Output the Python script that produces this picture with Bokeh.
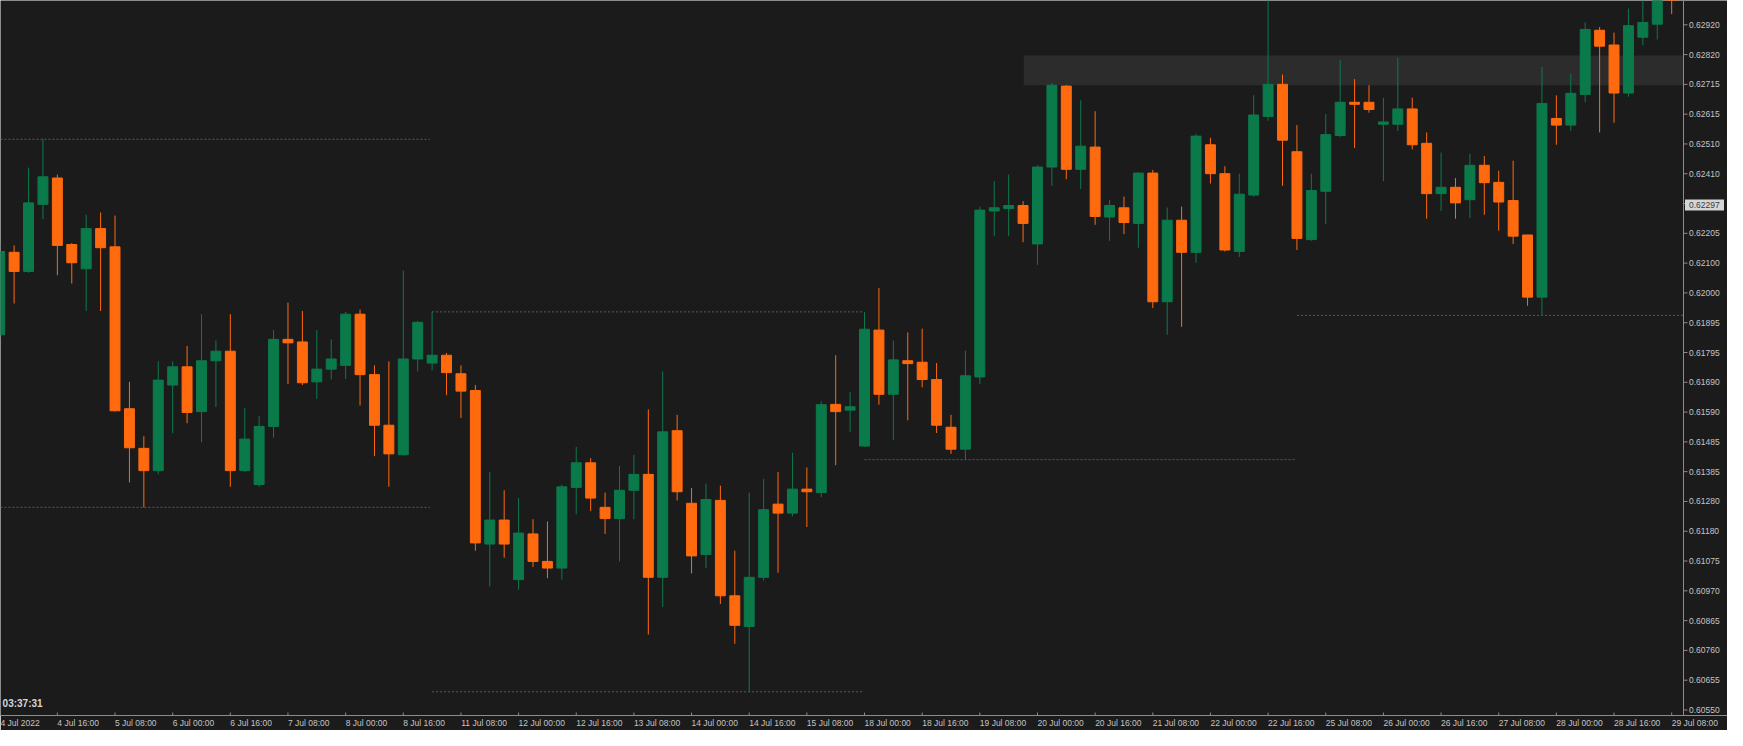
from bokeh.plotting import figure
from bokeh.models import FixedTicker, Label, ColumnDataSource, Range1d
from bokeh.core.properties import value
from bokeh.embed import file_html
from bokeh.resources import INLINE

# ---------------- data (H4 bars, 4 Jul 2022 00:00 .. 29 Jul 2022 08:00) ----------------
opens = [0.61848, 0.62133, 0.62067, 0.62299, 0.62390, 0.62160, 0.62076, 0.62215, 0.62152, 0.61592,
         0.61455, 0.61378, 0.61674, 0.61737, 0.61582, 0.61758, 0.61791, 0.61378, 0.61330, 0.61531,
         0.61832, 0.61823, 0.61685, 0.61729, 0.61742, 0.61919, 0.61710, 0.61535, 0.61433, 0.61764,
         0.61750, 0.61777, 0.61713, 0.61655, 0.61124, 0.61207, 0.61001, 0.61159, 0.61064, 0.61041,
         0.61320, 0.61405, 0.61251, 0.61212, 0.61310, 0.61365, 0.61009, 0.61516, 0.61265, 0.61088,
         0.61275, 0.60945, 0.60839, 0.61009, 0.61262, 0.61231, 0.61314, 0.61302, 0.61607, 0.61587,
         0.61463, 0.61864, 0.61642, 0.61758, 0.61753, 0.61693, 0.61528, 0.61452, 0.61702, 0.62276,
         0.62284, 0.62295, 0.62162, 0.62428, 0.62708, 0.62420, 0.62497, 0.62255, 0.62287, 0.62233,
         0.62407, 0.61962, 0.62244, 0.62133, 0.62505, 0.62405, 0.62136, 0.62331, 0.62603, 0.62714,
         0.62481, 0.62177, 0.62344, 0.62537, 0.62652, 0.62652, 0.62576, 0.62576, 0.62629, 0.62510,
         0.62336, 0.62358, 0.62315, 0.62434, 0.62375, 0.62312, 0.62193, 0.61978, 0.62596, 0.62573,
         0.62679, 0.62901, 0.62850, 0.62684, 0.62877, 0.62922, 0.63040]
highs = [0.62165, 0.62157, 0.62426, 0.62524, 0.62402, 0.62165, 0.62263, 0.62271, 0.62260, 0.61685,
         0.61497, 0.61756, 0.61756, 0.61809, 0.61919, 0.61828, 0.61919, 0.61595, 0.61566, 0.61864,
         0.61959, 0.61930, 0.61864, 0.61832, 0.61927, 0.61935, 0.61742, 0.61756, 0.62070, 0.61896,
         0.61927, 0.61785, 0.61742, 0.61674, 0.61373, 0.61310, 0.61283, 0.61210, 0.61202, 0.61329,
         0.61460, 0.61421, 0.61302, 0.61394, 0.61432, 0.61590, 0.61721, 0.61571, 0.61318, 0.61333,
         0.61326, 0.61101, 0.61302, 0.61349, 0.61373, 0.61440, 0.61389, 0.61618, 0.61777, 0.61650,
         0.61927, 0.62010, 0.61828, 0.61856, 0.61869, 0.61750, 0.61571, 0.61793, 0.62291, 0.62379,
         0.62402, 0.62310, 0.62434, 0.62719, 0.62711, 0.62659, 0.62621, 0.62315, 0.62326, 0.62410,
         0.62418, 0.62288, 0.62291, 0.62542, 0.62529, 0.62431, 0.62405, 0.62676, 0.63030, 0.62748,
         0.62573, 0.62405, 0.62611, 0.62798, 0.62732, 0.62711, 0.62667, 0.62806, 0.62668, 0.62548,
         0.62478, 0.62390, 0.62474, 0.62466, 0.62415, 0.62450, 0.62193, 0.62774, 0.62676, 0.62751,
         0.62928, 0.62912, 0.62893, 0.62976, 0.63010, 0.63045, 0.63050]
lows = [0.61832, 0.61956, 0.62062, 0.62247, 0.62054, 0.62025, 0.61930, 0.61930, 0.61582, 0.61337,
        0.61251, 0.61365, 0.61508, 0.61542, 0.61476, 0.61598, 0.61322, 0.61373, 0.61322, 0.61492,
        0.61677, 0.61674, 0.61626, 0.61693, 0.61695, 0.61603, 0.61428, 0.61322, 0.61430, 0.61721,
        0.61725, 0.61639, 0.61560, 0.61101, 0.60977, 0.61077, 0.60966, 0.61045, 0.61006, 0.61001,
        0.61227, 0.61238, 0.61159, 0.61064, 0.61210, 0.60811, 0.60906, 0.61275, 0.61022, 0.61041,
        0.60917, 0.60779, 0.60613, 0.60998, 0.61025, 0.61220, 0.61183, 0.61286, 0.61397, 0.61512,
        0.61460, 0.61606, 0.61484, 0.61552, 0.61666, 0.61508, 0.61436, 0.61416, 0.61677, 0.62189,
        0.62189, 0.62168, 0.62090, 0.62363, 0.62386, 0.62352, 0.62228, 0.62173, 0.62196, 0.62149,
        0.61940, 0.61848, 0.61875, 0.62097, 0.62371, 0.62136, 0.62117, 0.62326, 0.62588, 0.62363,
        0.62141, 0.62173, 0.62230, 0.62532, 0.62494, 0.62616, 0.62379, 0.62553, 0.62489, 0.62249,
        0.62276, 0.62249, 0.62252, 0.62263, 0.62208, 0.62162, 0.61948, 0.61915, 0.62505, 0.62553,
        0.62652, 0.62548, 0.62581, 0.62671, 0.62849, 0.62869, 0.62957]
closes = [0.62136, 0.62067, 0.62304, 0.62394, 0.62157, 0.62097, 0.62215, 0.62149, 0.61585, 0.61457,
          0.61378, 0.61691, 0.61737, 0.61579, 0.61758, 0.61791, 0.61378, 0.61487, 0.61531, 0.61832,
          0.61820, 0.61682, 0.61729, 0.61764, 0.61919, 0.61710, 0.61535, 0.61436, 0.61764, 0.61891,
          0.61777, 0.61717, 0.61653, 0.61128, 0.61207, 0.61124, 0.61162, 0.61064, 0.61041, 0.61322,
          0.61405, 0.61283, 0.61212, 0.61310, 0.61365, 0.61009, 0.61512, 0.61305, 0.61083, 0.61278,
          0.60945, 0.60843, 0.61009, 0.61243, 0.61231, 0.61314, 0.61305, 0.61606, 0.61582, 0.61599,
          0.61867, 0.61642, 0.61761, 0.61748, 0.61693, 0.61535, 0.61452, 0.61706, 0.62279, 0.62287,
          0.62295, 0.62233, 0.62428, 0.62711, 0.62420, 0.62500, 0.62257, 0.62295, 0.62236, 0.62407,
          0.61962, 0.62244, 0.62133, 0.62535, 0.62405, 0.62141, 0.62334, 0.62608, 0.62714, 0.62521,
          0.62181, 0.62347, 0.62540, 0.62652, 0.62645, 0.62627, 0.62584, 0.62629, 0.62505, 0.62336,
          0.62358, 0.62304, 0.62434, 0.62374, 0.62307, 0.62189, 0.61978, 0.62648, 0.62573, 0.62683,
          0.62904, 0.62846, 0.62684, 0.62917, 0.62928, 0.63030, 0.63012]

x_tick_bars = [0, 4, 8, 12, 16, 20, 24, 28, 32, 36, 40, 44, 48, 52, 56, 60, 64, 68, 72, 76,
               80, 84, 88, 92, 96, 100, 104, 108, 112, 116]
x_tick_labels = ["4 Jul 2022", "4 Jul 16:00", "5 Jul 08:00", "6 Jul 00:00", "6 Jul 16:00",
                 "7 Jul 08:00", "8 Jul 00:00", "8 Jul 16:00", "11 Jul 08:00", "12 Jul 00:00",
                 "12 Jul 16:00", "13 Jul 08:00", "14 Jul 00:00", "14 Jul 16:00", "15 Jul 08:00",
                 "18 Jul 00:00", "18 Jul 16:00", "19 Jul 08:00", "20 Jul 00:00", "20 Jul 16:00",
                 "21 Jul 08:00", "22 Jul 00:00", "22 Jul 16:00", "25 Jul 08:00", "26 Jul 00:00",
                 "26 Jul 16:00", "27 Jul 08:00", "28 Jul 00:00", "28 Jul 16:00", "29 Jul 08:00"]
# price scale labels, bottom to top (the slot hidden by the price marker is None)
y_tick_labels = ["0.60550", "0.60655", "0.60760", "0.60865", "0.60970", "0.61075", "0.61180",
                 "0.61280", "0.61385", "0.61485", "0.61590", "0.61690", "0.61795", "0.61895",
                 "0.62000", "0.62100", "0.62205", None, "0.62410", "0.62510", "0.62615",
                 "0.62715", "0.62820", "0.62920"]
week_starts = [0, 30, 60, 90]
current_price = 0.62297
zone_start, zone_bottom, zone_top = 71.05, 0.62711, 0.62814
clock_text = "03:37:31"

# ---------------- style ----------------
BG = "#1b1b1b"
UP = "#0b7a4b"
DOWN = "#ff6a0f"
AXIS = "#8c8c8c"
TXT = "#c4c4c4"
FONT = "Liberation Sans"
FS = 8.5

W, H = 1727, 730
RIGHT = 44                    # width of the price scale strip (px)
BOTTOM = 15                   # approx. height of the time axis (px)
X0, X1 = 0.055, 116.82        # visible bar span of the chart area
Y0, Y1 = 0.60531, 0.63004
ppb = (W - RIGHT) / (X1 - X0)          # pixels per bar
XR = X1 + RIGHT / ppb                  # frame also holds the price scale strip
ppy = (Y1 - Y0) / (H - BOTTOM)         # price per pixel

n = len(opens)
idx = list(range(n))
is_up = [c >= o for o, c in zip(opens, closes)]
src = ColumnDataSource(dict(
    x=idx, o=opens, h=highs, l=lows, c=closes,
    top=[max(o, c) for o, c in zip(opens, closes)],
    bot=[min(o, c) for o, c in zip(opens, closes)],
    col=[UP if u else DOWN for u in is_up],
))

p = figure(width=W, height=H, x_range=Range1d(X0, XR), y_range=Range1d(Y0, Y1),
           output_backend="svg", toolbar_location=None, y_axis_location=None,
           background_fill_color=BG, border_fill_color=BG, outline_line_color=None,
           min_border_left=0, min_border_top=0, min_border_right=0, min_border_bottom=0)
p.grid.grid_line_color = None

# resistance zone
p.quad(left=[zone_start], right=[X1], bottom=[zone_bottom], top=[zone_top],
       fill_color="#2c2c2c", line_color=None)

# weekly high / low dotted lines
for i, ws in enumerate(week_starts):
    we = week_starts[i + 1] - 1 if i + 1 < len(week_starts) else n - 1
    wh = max(highs[ws:we + 1])
    wl = min(lows[ws:we + 1])
    xs = ws - 0.5 if ws == 0 else ws
    x_end = we + 0.85 if i + 1 < len(week_starts) else X1
    p.segment(x0=[xs, xs], x1=[x_end, x_end], y0=[wh, wl], y1=[wh, wl],
              line_color="#5c5c5c", line_dash="2 2", line_width=1)

# candles
p.segment(x0="x", x1="x", y0="h", y1="l", source=src, line_color="col", line_width=1)
p.vbar(x="x", width=0.69, top="top", bottom="bot", source=src,
       fill_color="col", line_color="col", line_width=1)

# ---------------- price scale (right strip) ----------------
step = (float(y_tick_labels[-1]) - float(y_tick_labels[0])) / (len(y_tick_labels) - 1)
y_pos = [float(y_tick_labels[0]) + i * step for i in range(len(y_tick_labels))]
p.segment(x0=[X1], x1=[X1], y0=[Y0], y1=[Y1 + ppy * 5], line_color=AXIS, line_width=1)
p.segment(x0=[X1] * len(y_pos), x1=[X1 + 4 / ppb] * len(y_pos), y0=y_pos, y1=y_pos,
          line_color=AXIS, line_width=1)
shown = [(yp, lab) for yp, lab in zip(y_pos, y_tick_labels) if lab is not None]
p.text(x=[X1 + 5.5 / ppb] * len(shown), y=[s[0] for s in shown], text=[s[1] for s in shown],
       text_font=value(FONT), text_font_size="%spx" % FS, text_color=TXT,
       text_align="left", text_baseline="middle")
# current price marker
p.quad(left=[X1 + 1.5 / ppb], right=[X1 + 40.5 / ppb],
       bottom=[current_price - 5.5 * ppy], top=[current_price + 5.5 * ppy],
       fill_color="#d6d6d6", line_color=None)
p.text(x=[X1 + 5.5 / ppb], y=[current_price], text=["%.5f" % current_price],
       text_font=value(FONT), text_font_size="%spx" % FS, text_color="#3a3a3a",
       text_align="left", text_baseline="middle")

# ---------------- time axis (bottom): labels start at their tick, MT-style ----------------
CW = {" ": 0.278, "J": 0.5, "u": 0.556, "l": 0.222, ":": 0.278}
def text_w(s):
    return sum(CW.get(ch, 0.556) for ch in s) * FS

lab_pos = [b + (text_w(s) / 2) / ppb for b, s in zip(x_tick_bars, x_tick_labels)]
xax = p.xaxis[0]
xax.ticker = FixedTicker(ticks=lab_pos)
xax.major_label_overrides = {xp: s for xp, s in zip(lab_pos, x_tick_labels)}
xax.axis_line_color = AXIS
xax.major_tick_line_color = None
xax.major_tick_out = 0
xax.major_tick_in = 0
xax.minor_tick_line_color = None
xax.major_label_text_color = TXT
xax.major_label_text_font = FONT
xax.major_label_text_font_size = "%spx" % FS
xax.major_label_standoff = 2

# small tick marks at the real bar positions
p.segment(x0=x_tick_bars, x1=x_tick_bars, y0=[Y0] * len(x_tick_bars),
          y1=[Y0 + 3 * ppy] * len(x_tick_bars), line_color=AXIS, line_width=1)

# countdown clock, bottom-left
p.add_layout(Label(x=0.2, y=Y0 + 0.00042, text=clock_text, text_align="left",
                   text_baseline="middle", text_font=FONT, text_font_size="10px",
                   text_font_style="bold", text_color="#d6d6d6"))

open("out.html", "w").write(file_html(p, INLINE))
